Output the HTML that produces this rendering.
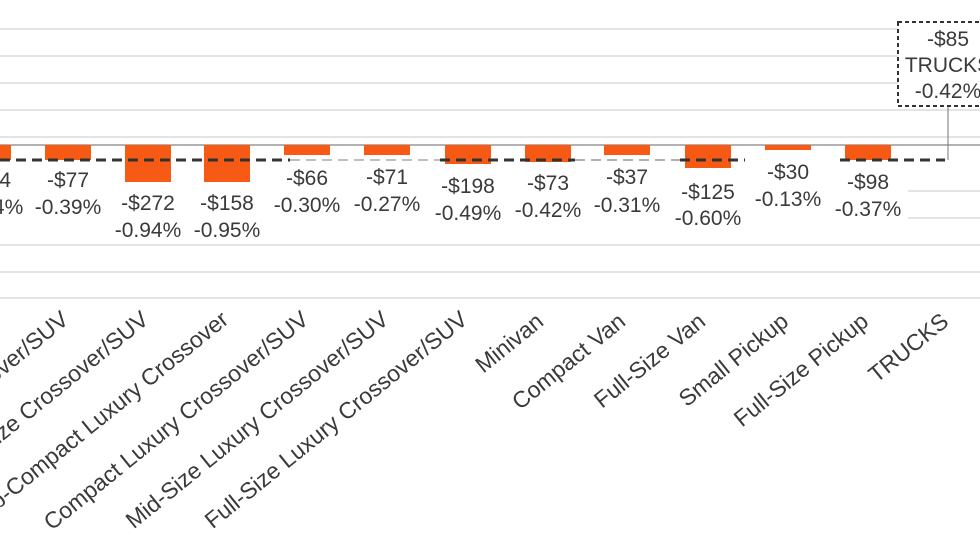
<!DOCTYPE html>
<html><head><meta charset="utf-8"><style>
html,body{margin:0;padding:0;background:#fff;width:980px;height:552px;overflow:hidden}
svg text{font-family:"Liberation Sans",Arial,sans-serif;fill:#3a3a3a}
</style></head><body>
<svg width="980" height="552" viewBox="0 0 980 552" xmlns="http://www.w3.org/2000/svg">
<g stroke="#dcdcdc" stroke-width="1.5">
<line x1="0" y1="29" x2="980" y2="29"/><line x1="0" y1="56" x2="980" y2="56"/>
<line x1="0" y1="83" x2="980" y2="83"/><line x1="0" y1="110" x2="980" y2="110"/>
<line x1="0" y1="137" x2="980" y2="137"/><line x1="0" y1="191" x2="980" y2="191"/>
<line x1="0" y1="218" x2="980" y2="218"/><line x1="0" y1="245" x2="980" y2="245"/>
<line x1="0" y1="272" x2="980" y2="272"/><line x1="0" y1="298" x2="980" y2="298"/>
</g>
<rect x="0" y="165" width="908" height="74" fill="#fff"/>
<line x1="0" y1="145" x2="980" y2="145" stroke="#999" stroke-width="1.5"/>
<g fill="#f75a14">
<rect x="0" y="145" width="11" height="15"/>
<rect x="45" y="145" width="46" height="15"/>
<rect x="125" y="145" width="46" height="37"/>
<rect x="204" y="145" width="46" height="37"/>
<rect x="284" y="145" width="46" height="10"/>
<rect x="364" y="145" width="46" height="10"/>
<rect x="445" y="145" width="46" height="19"/>
<rect x="525" y="145" width="46" height="17"/>
<rect x="604" y="145" width="46" height="10"/>
<rect x="685" y="145" width="46" height="23"/>
<rect x="765" y="145" width="46" height="5"/>
<rect x="845" y="145" width="46" height="15"/>
</g>
<g stroke-dasharray="10,6" stroke-width="3">
<line x1="0" y1="160" x2="290" y2="160" stroke="#333"/>
<line x1="290" y1="160" x2="440" y2="160" stroke="#aaa" stroke-width="1.5"/>
<line x1="440" y1="160" x2="575" y2="160" stroke="#333"/>
<line x1="575" y1="160" x2="680" y2="160" stroke="#999" stroke-width="1.5"/>
<line x1="680" y1="160" x2="745" y2="160" stroke="#333"/>
<line x1="840" y1="160" x2="945" y2="160" stroke="#333"/>
</g>
<line x1="948" y1="107" x2="948" y2="160" stroke="#777" stroke-width="1"/>
<rect x="898" y="22" width="100" height="84" fill="#fff" stroke="#333" stroke-width="2" stroke-dasharray="4,3"/>
<g font-size="21" text-anchor="middle">
<text x="948" y="46">-$85</text><text x="948" y="72">TRUCKS</text><text x="948" y="98">-0.42%</text>
<text x="-10" y="187">-$94</text><text x="-10" y="214">-0.44%</text>
<text x="68" y="187">-$77</text><text x="68" y="214">-0.39%</text>
<text x="148" y="210">-$272</text><text x="148" y="237">-0.94%</text>
<text x="227" y="210">-$158</text><text x="227" y="237">-0.95%</text>
<text x="307" y="185">-$66</text><text x="307" y="212">-0.30%</text>
<text x="387" y="184">-$71</text><text x="387" y="211">-0.27%</text>
<text x="468" y="193">-$198</text><text x="468" y="220">-0.49%</text>
<text x="548" y="190">-$73</text><text x="548" y="217">-0.42%</text>
<text x="627" y="184">-$37</text><text x="627" y="212">-0.31%</text>
<text x="708" y="199">-$125</text><text x="708" y="225">-0.60%</text>
<text x="788" y="179">-$30</text><text x="788" y="206">-0.13%</text>
<text x="868" y="189">-$98</text><text x="868" y="216">-0.37%</text>
</g>
<g font-size="23" text-anchor="end">
<text transform="translate(70,322) rotate(-39)">Compact Crossover/SUV</text>
<text transform="translate(150,322) rotate(-39)">Mid-Size Crossover/SUV</text>
<text transform="translate(230,322) rotate(-39)">Sub-Compact Luxury Crossover</text>
<text transform="translate(310,322) rotate(-39)">Compact Luxury Crossover/SUV</text>
<text transform="translate(390,322) rotate(-39)">Mid-Size Luxury Crossover/SUV</text>
<text transform="translate(469,322) rotate(-39)">Full-Size Luxury Crossover/SUV</text>
<text transform="translate(545,324) rotate(-39)">Minivan</text>
<text transform="translate(627,324) rotate(-39)">Compact Van</text>
<text transform="translate(707,324) rotate(-39)">Full-Size Van</text>
<text transform="translate(790,324) rotate(-39)">Small Pickup</text>
<text transform="translate(870,324) rotate(-39)">Full-Size Pickup</text>
<text transform="translate(950,324) rotate(-39)">TRUCKS</text>
</g>
</svg>
</body></html>
